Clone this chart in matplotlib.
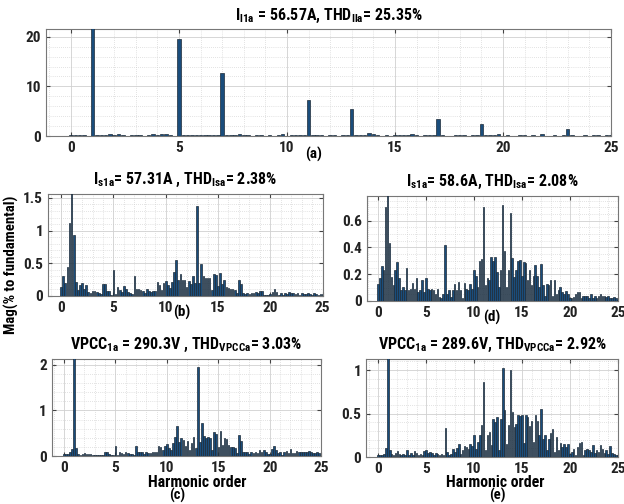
import numpy as np
import matplotlib.pyplot as plt
from matplotlib import font_manager
from matplotlib.ticker import MultipleLocator, FuncFormatter

# narrow bold sans if available, otherwise regular Liberation Sans
instaladas = {f.name for f in font_manager.fontManager.ttflist}
fuente = "Liberation Sans"
for cand in ["Liberation Sans Narrow", "Roboto Condensed", "DejaVu Sans Condensed"]:
    if cand in instaladas:
        fuente = cand
        break

plt.rcParams["font.family"] = [fuente, "DejaVu Sans"]
plt.rcParams["font.weight"] = "bold"
plt.rcParams["font.size"] = 10
plt.rcParams["mathtext.fontset"] = "custom"
plt.rcParams["mathtext.rm"] = fuente + ":bold"
plt.rcParams["mathtext.it"] = fuente + ":bold"
plt.rcParams["mathtext.bf"] = fuente + ":bold"

# harmonic order axis, 0.2 resolution (10 Hz bins on 50 Hz)
orden = np.linspace(0, 25, 126)

# load current
mag_il = [0.2, 0.2, 0.25, 0.2, 0.1,
          100, 0.3, 0.3, 0.3, 0.45,
          0.2, 0.35, 0.3, 0.1, 0.2,
          0.3, 0.2, 0.1, 0.3, 0.45,
          0.2, 0.35, 0.35, 0.3, 0.1,
          19.5, 0.2, 0.2, 0.2, 0.2,
          0.2, 0.2, 0.15, 0.2, 0.15,
          12.6, 0.25, 0.25, 0.3, 0.5,
          0.3, 0.25, 0.1, 0.2, 0.2,
          0.1, 0.25, 0.1, 0.3, 0.5,
          0.1, 0.2, 0.3, 0.3, 0.2,
          7.2, 0.2, 0.15, 0.2, 0.1,
          0.2, 0.25, 0.1, 0.2, 0.25,
          5.4, 0.3, 0.25, 0.3, 0.55,
          0.35, 0.25, 0.1, 0.2, 0.1,
          0.25, 0.2, 0.15, 0.25, 0.45,
          0.2, 0.1, 0.15, 0.25, 0.2,
          3.4, 0.2, 0.1, 0.1, 0.3,
          0.25, 0.2, 0.1, 0.2, 0.25,
          2.5, 0.2, 0.15, 0.2, 0.45,
          0.1, 0.15, 0.1, 0.1, 0.15,
          0.15, 0.1, 0.15, 0.1, 0.35,
          0.1, 0.1, 0.15, 0.1, 0.25,
          1.5, 0.15, 0.1, 0.1, 0.25,
          0.1, 0.15, 0.15, 0.1, 0.15,
          0.15]

# source current, case 1
mag_is1 = [0.14, 0.30, 0.19, 0.44, 1.12,
           100, 0.93, 0.21, 0.09, 0.16,
           0.20, 0.11, 0.16, 0.06, 0.05,
           0.07, 0.07, 0.06, 0.04, 0.03,
           0.18, 0.18, 0.07, 0.07, 0.01,
           0.40, 0.03, 0.14, 0.09, 0.06,
           0.15, 0.11, 0.06, 0.04, 0.03,
           0.30, 0.10, 0.10, 0.09, 0.08,
           0.05, 0.10, 0.08, 0.06, 0.07,
           0.08, 0.21, 0.16, 0.09, 0.20,
           0.22, 0.16, 0.12, 0.21, 0.37,
           0.55, 0.24, 0.34, 0.24, 0.25,
           0.14, 0.23, 0.18, 0.30, 0.19,
           1.38, 0.19, 0.49, 0.30, 0.28,
           0.28, 0.27, 0.09, 0.34, 0.32,
           0.15, 0.35, 0.18, 0.24, 0.14,
           0.12, 0.11, 0.11, 0.09, 0.05,
           0.25, 0.18, 0.05, 0.03, 0.04,
           0.03, 0.05, 0.04, 0.06, 0.05,
           0.07, 0.07, 0.02, 0.01, 0.01,
           0.03, 0.06, 0.10, 0.06, 0.02,
           0.04, 0.02, 0.04, 0.03, 0.06,
           0.04, 0.04, 0.03, 0.05, 0.02,
           0.04, 0.03, 0.03, 0.04, 0.03,
           0.02, 0.04, 0.03, 0.02, 0.03,
           0.03]

# PCC voltage, case 1
mag_vpcc1 = [0.04, 0.04, 0.05, 0.10, 0.15,
             100, 0.17, 0.045, 0.02, 0.045,
             0.06, 0.04, 0.05, 0.04, 0.02,
             0.03, 0.03, 0.03, 0.03, 0.02,
             0.09, 0.09, 0.04, 0.03, 0.02,
             0.23, 0.02, 0.09, 0.06, 0.045,
             0.10, 0.075, 0.045, 0.04, 0.02,
             0.23, 0.09, 0.08, 0.08, 0.05,
             0.10, 0.075, 0.075, 0.10, 0.08,
             0.10, 0.22, 0.20, 0.13, 0.22,
             0.26, 0.17, 0.13, 0.28, 0.42,
             0.66, 0.30, 0.40, 0.35, 0.23,
             0.33, 0.13, 0.28, 0.42, 0.17,
             1.95, 0.30, 0.72, 0.45, 0.40,
             0.42, 0.39, 0.13, 0.52, 0.48,
             0.20, 0.56, 0.24, 0.39, 0.37,
             0.24, 0.20, 0.20, 0.18, 0.07,
             0.46, 0.33, 0.10, 0.10, 0.08,
             0.04, 0.08, 0.06, 0.10, 0.075,
             0.13, 0.10, 0.13, 0.10, 0.045,
             0.04, 0.15, 0.23, 0.13, 0.06,
             0.10, 0.02, 0.08, 0.12, 0.075,
             0.15, 0.075, 0.06, 0.12, 0.08,
             0.08, 0.08, 0.08, 0.08, 0.11,
             0.08, 0.06, 0.065, 0.08, 0.075,
             0.075]

# source current, case 2
mag_is2 = [0.125, 0.175, 0.26, 0.23, 0.70,
           100, 0.435, 0.18, 0.12, 0.23,
           0.29, 0.17, 0.08, 0.105, 0.08,
           0.25, 0.08, 0.09, 0.135, 0.09,
           0.17, 0.07, 0.08, 0.16, 0.07,
           0.175, 0.09, 0.085, 0.09, 0.08,
           0.055, 0.09, 0.03, 0.025, 0.055,
           0.42, 0.05, 0.08, 0.03, 0.085,
           0.125, 0.08, 0.14, 0.08, 0.025,
           0.135, 0.09, 0.08, 0.125, 0.09,
           0.235, 0.19, 0.105, 0.30, 0.31,
           0.705, 0.12, 0.17, 0.155, 0.33,
           0.30, 0.33, 0.22, 0.105, 0.23,
           0.72, 0.37, 0.105, 0.23, 0.66,
           0.32, 0.18, 0.23, 0.30, 0.305,
           0.185, 0.29, 0.28, 0.155, 0.23,
           0.12, 0.19, 0.27, 0.19, 0.105,
           0.275, 0.12, 0.035, 0.13, 0.12,
           0.155, 0.04, 0.155, 0.055, 0.08,
           0.105, 0.07, 0.055, 0.075, 0.05,
           0.025, 0.02, 0.03, 0.055, 0.07,
           0.065, 0.02, 0.04, 0.035, 0.04,
           0.025, 0.05, 0.025, 0.04, 0.025,
           0.035, 0.055, 0.04, 0.035, 0.03,
           0.035, 0.02, 0.02, 0.03, 0.025,
           0.01]

# PCC voltage, case 2
mag_vpcc2 = [0.02, 0.027, 0.03, 0.04, 0.10,
             100, 0.085, 0.04, 0.027, 0.05,
             0.07, 0.035, 0.02, 0.04, 0.027,
             0.077, 0.03, 0.046, 0.03, 0.07,
             0.046, 0.027, 0.035, 0.02, 0.065,
             0.085, 0.05, 0.058, 0.046, 0.027,
             0.05, 0.035, 0.02, 0.04, 0.027,
             0.33, 0.058, 0.027, 0.04, 0.09,
             0.058, 0.10, 0.15, 0.04, 0.085,
             0.13, 0.115, 0.09, 0.15, 0.13,
             0.26, 0.095, 0.17, 0.25, 0.365,
             0.86, 0.077, 0.25, 0.29, 0.135,
             0.44, 0.40, 0.46, 0.077, 0.44,
             1.03, 0.54, 0.15, 0.365, 1.00,
             0.52, 0.35, 0.385, 0.49, 0.47,
             0.49, 0.165, 0.48, 0.46, 0.36,
             0.42, 0.17, 0.49, 0.42, 0.25,
             0.55, 0.21, 0.25, 0.077, 0.21,
             0.28, 0.32, 0.058, 0.23, 0.077,
             0.165, 0.115, 0.15, 0.115, 0.15,
             0.04, 0.058, 0.095, 0.03, 0.115,
             0.165, 0.17, 0.03, 0.077, 0.09,
             0.077, 0.058, 0.135, 0.05, 0.077,
             0.058, 0.135, 0.09, 0.05, 0.077,
             0.04, 0.127, 0.05, 0.04, 0.027,
             0.02]

titulos = [r"I$_{\rm l1a}$ = 56.57A, THD$_{\rm Ila}$= 25.35%",
           r"I$_{\rm s1a}$= 57.31A , THD$_{\rm Isa}$= 2.38%",
           r"VPCC$_{\rm 1a}$ = 290.3V , THD$_{\rm VPCCa}$= 3.03%",
           r"I$_{\rm s1a}$= 58.6A, THD$_{\rm Isa}$= 2.08%",
           r"VPCC$_{\rm 1a}$ = 289.6V, THD$_{\rm VPCCa}$= 2.92%"]

# [left, bottom, width, height], data, ylim top, y major, y minor, xlim left
paneles = [
    ([0.074, 0.730, 0.905, 0.212], mag_il, 21.5, 10, 2, -1.15),
    ([0.077, 0.413, 0.440, 0.202], mag_is1, 1.56, 0.5, 0.1, -1.25),
    ([0.083, 0.095, 0.432, 0.193], mag_vpcc1, 2.13, 1, 0.2, -1.17),
    ([0.588, 0.403, 0.402, 0.208], mag_is2, 0.785, 0.2, 0.05, -1.15),
    ([0.587, 0.093, 0.403, 0.195], mag_vpcc2, 1.13, 0.5, 0.1, -1.25),
]

fig = plt.figure(figsize=(6.24, 5.04), dpi=100)

for (pos, mag, ymax, ymaj, ymin, xizq), titulo in zip(paneles, titulos):
    ax = fig.add_axes(pos)
    ax.bar(orden, mag, width=0.16, color="#1a4d7c",
           edgecolor="#1d2a36", linewidth=0.5, zorder=3)
    ax.set_xlim(xizq, 25)
    ax.set_ylim(0, ymax)
    ax.xaxis.set_major_locator(MultipleLocator(5))
    ax.xaxis.set_minor_locator(MultipleLocator(1))
    ax.yaxis.set_major_locator(MultipleLocator(ymaj))
    ax.yaxis.set_minor_locator(MultipleLocator(ymin))
    ax.yaxis.set_major_formatter(FuncFormatter(lambda v, p: f"{v:g}"))
    ax.grid(True, which="major", color="#d0d0d0", linewidth=0.6, zorder=0)
    ax.grid(True, which="minor", color="#c8c8c8", linewidth=0.5,
            linestyle=(0, (1, 2)), zorder=0)
    ax.tick_params(which="both", direction="in", top=True, right=True,
                   colors="#444444", labelcolor="#222222", labelsize=11)
    ax.tick_params(which="major", length=3)
    ax.tick_params(which="minor", length=0)
    for s in ax.spines.values():
        s.set_color("#777777")
        s.set_linewidth(0.8)
    for lbl in ax.get_xticklabels() + ax.get_yticklabels():
        lbl.set_fontweight("bold")
    ax.set_title(titulo, fontsize=11.5, fontweight="bold", pad=7)

fig.text(0.019, 0.474, "Mag(% to fundamental)", rotation=90,
         ha="center", va="center", fontsize=10.7, fontweight="bold")
fig.text(0.503, 0.693, "(a)", ha="center", va="center", fontsize=11, fontweight="bold")
fig.text(0.292, 0.379, "(b)", ha="center", va="center", fontsize=11, fontweight="bold")
fig.text(0.788, 0.371, "(d)", ha="center", va="center", fontsize=11, fontweight="bold")
fig.text(0.316, 0.043, "Harmonic order", ha="center", va="center", fontsize=11.4, fontweight="bold")
fig.text(0.284, 0.016, "(c)", ha="center", va="center", fontsize=10.5, fontweight="bold")
fig.text(0.794, 0.043, "Harmonic order", ha="center", va="center", fontsize=11.4, fontweight="bold")
fig.text(0.797, 0.016, "(e)", ha="center", va="center", fontsize=10.5, fontweight="bold")

plt.savefig("out.png", dpi=100)
